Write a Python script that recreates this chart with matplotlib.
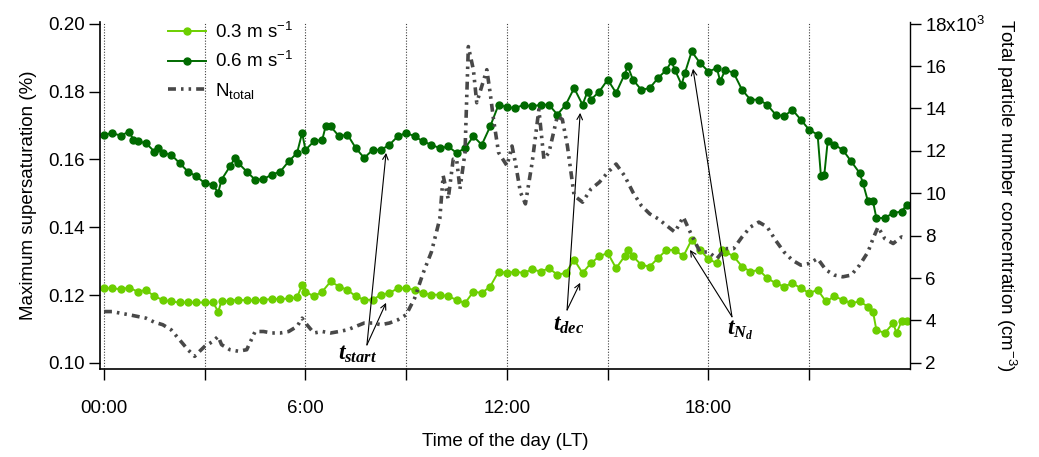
import numpy as np
import matplotlib
matplotlib.use("Agg")
import matplotlib.pyplot as plt
from matplotlib.ticker import FixedLocator, FixedFormatter

plt.rcParams["font.family"] = ["Liberation Sans", "DejaVu Sans"]
plt.rcParams["mathtext.fontset"] = "custom"
plt.rcParams["mathtext.rm"] = "Liberation Sans"
plt.rcParams["mathtext.it"] = "Liberation Serif:italic:bold"
plt.rcParams["mathtext.default"] = "rm"

# --- max supersaturation at updraft 0.3 m/s (hour of day, %) ---
t_03 = [0.0, 0.25, 0.5, 0.75, 1.0, 1.25, 1.5, 1.75, 2.0, 2.25, 2.5, 2.75, 3.0, 3.25, 3.4, 3.5,
        3.75, 4.0, 4.25, 4.5, 4.75, 5.0, 5.25, 5.5, 5.75, 5.9, 6.0, 6.25, 6.5, 6.75, 7.0, 7.25,
        7.5, 7.75, 8.0, 8.25, 8.5, 8.75, 9.0, 9.25, 9.5, 9.75, 10.0, 10.25, 10.5, 10.75, 11.0,
        11.25, 11.5, 11.75, 12.0, 12.25, 12.5, 12.75, 13.0, 13.25, 13.5, 13.75, 14.0, 14.25,
        14.5, 14.75, 15.0, 15.25, 15.5, 15.6, 15.75, 16.0, 16.25, 16.5, 16.75, 17.0, 17.25,
        17.5, 17.75, 18.0, 18.25, 18.4, 18.5, 18.75, 19.0, 19.25, 19.5, 19.75, 20.0, 20.25,
        20.5, 20.75, 21.0, 21.25, 21.5, 21.75, 22.0, 22.25, 22.5, 22.75, 22.9, 23.0, 23.25,
        23.5, 23.6, 23.75, 23.9]
s_03 = [0.1220, 0.1220, 0.1217, 0.1222, 0.1210, 0.1215, 0.1196, 0.1186, 0.1181, 0.1178, 0.1178,
        0.1178, 0.1178, 0.1178, 0.1151, 0.1181, 0.1183, 0.1186, 0.1184, 0.1184, 0.1186, 0.1188,
        0.1188, 0.1190, 0.1193, 0.1230, 0.1210, 0.1196, 0.1210, 0.1240, 0.1225, 0.1215, 0.1196,
        0.1186, 0.1186, 0.1201, 0.1206, 0.1220, 0.1220, 0.1215, 0.1206, 0.1201, 0.1201, 0.1196,
        0.1186, 0.1176, 0.1210, 0.1206, 0.1225, 0.1269, 0.1265, 0.1269, 0.1265, 0.1276, 0.1269,
        0.1279, 0.1260, 0.1265, 0.1304, 0.1265, 0.1294, 0.1314, 0.1324, 0.1279, 0.1314, 0.1333,
        0.1314, 0.1289, 0.1284, 0.1309, 0.1333, 0.1333, 0.1314, 0.1363, 0.1333, 0.1306, 0.1294,
        0.1333, 0.1328, 0.1314, 0.1284, 0.1269, 0.1274, 0.1250, 0.1235, 0.1225, 0.1235, 0.1220,
        0.1206, 0.1215, 0.1181, 0.1196, 0.1186, 0.1176, 0.1181, 0.1166, 0.1151, 0.1097, 0.1088,
        0.1117, 0.1088, 0.1122, 0.1122]

# --- max supersaturation at updraft 0.6 m/s ---
t_06 = [0.0, 0.25, 0.5, 0.75, 0.875, 1.0, 1.25, 1.5, 1.6, 1.75, 2.0, 2.25, 2.5, 2.75, 3.0, 3.25,
        3.4, 3.5, 3.75, 3.9, 4.0, 4.25, 4.5, 4.75, 5.0, 5.25, 5.5, 5.75, 5.9, 6.0, 6.25, 6.5,
        6.6, 6.75, 7.0, 7.25, 7.5, 7.75, 8.0, 8.25, 8.5, 8.75, 9.0, 9.25, 9.5, 9.75, 10.0,
        10.25, 10.5, 10.75, 11.0, 11.25, 11.5, 11.75, 12.0, 12.25, 12.5, 12.75, 13.0, 13.25,
        13.5, 13.75, 14.0, 14.25, 14.4, 14.5, 14.75, 15.0, 15.25, 15.5, 15.6, 15.75, 16.0,
        16.25, 16.5, 16.75, 16.9, 17.0, 17.2, 17.3, 17.5, 17.75, 18.0, 18.25, 18.35, 18.5,
        18.75, 19.0, 19.25, 19.5, 19.75, 20.0, 20.25, 20.5, 20.75, 21.0, 21.25, 21.35, 21.45,
        21.55, 21.75, 22.0, 22.25, 22.5, 22.6, 22.75, 22.9, 23.0, 23.25, 23.5, 23.75, 23.9]
s_06 = [0.1673, 0.1677, 0.1670, 0.1682, 0.1658, 0.1653, 0.1648, 0.1623, 0.1633, 0.1619, 0.1614,
        0.1589, 0.1564, 0.1550, 0.1530, 0.1525, 0.1501, 0.1540, 0.1579, 0.1604, 0.1589, 0.1564,
        0.1540, 0.1542, 0.1555, 0.1564, 0.1594, 0.1619, 0.1678, 0.1628, 0.1653, 0.1658, 0.1697,
        0.1697, 0.1668, 0.1673, 0.1633, 0.1604, 0.1628, 0.1628, 0.1643, 0.1668, 0.1678, 0.1668,
        0.1653, 0.1643, 0.1633, 0.1638, 0.1619, 0.1633, 0.1668, 0.1643, 0.1697, 0.1761, 0.1754,
        0.1751, 0.1761, 0.1756, 0.1761, 0.1761, 0.1732, 0.1761, 0.1810, 0.1761, 0.1800, 0.1776,
        0.1800, 0.1835, 0.1796, 0.1850, 0.1874, 0.1835, 0.1805, 0.1810, 0.1840, 0.1864, 0.1889,
        0.1864, 0.1820, 0.1855, 0.1918, 0.1884, 0.1859, 0.1869, 0.1830, 0.1864, 0.1855, 0.1805,
        0.1776, 0.1776, 0.1761, 0.1732, 0.1727, 0.1746, 0.1717, 0.1687, 0.1673, 0.1550, 0.1555,
        0.1653, 0.1643, 0.1628, 0.1594, 0.1560, 0.1530, 0.1476, 0.1476, 0.1427, 0.1427, 0.1442,
        0.1446, 0.1466]

# --- total particle number concentration (x10^3 cm^-3) ---
t_n = [0.0, 0.25, 0.5, 0.75, 1.0, 1.25, 1.5, 1.75, 2.0, 2.25, 2.5, 2.7, 2.85, 3.0, 3.25, 3.4,
       3.5, 3.75, 4.0, 4.25, 4.5, 4.75, 5.0, 5.25, 5.5, 5.75, 5.9, 6.0, 6.25, 6.5, 6.75, 7.0,
       7.25, 7.5, 7.75, 8.0, 8.25, 8.5, 8.75, 9.0, 9.25, 9.5, 9.75, 10.0, 10.1, 10.25, 10.4,
       10.5, 10.6, 10.75, 10.85, 11.0, 11.1, 11.25, 11.4, 11.5, 11.6, 11.75, 12.0, 12.15,
       12.25, 12.4, 12.55, 12.75, 12.95, 13.1, 13.25, 13.5, 13.65, 13.8, 14.0, 14.25, 14.5,
       14.75, 15.0, 15.25, 15.5, 15.75, 16.0, 16.25, 16.5, 16.75, 17.0, 17.25, 17.5, 17.75,
       18.0, 18.25, 18.5, 18.75, 19.0, 19.25, 19.5, 19.75, 20.0, 20.25, 20.5, 20.75, 21.0,
       21.25, 21.5, 21.75, 22.0, 22.25, 22.5, 22.75, 22.9, 23.05, 23.25, 23.5, 23.75, 23.9]
n_tot = [4.42, 4.42, 4.34, 4.27, 4.19, 4.11, 3.92, 3.80, 3.56, 3.09, 2.62, 2.31, 2.55, 2.78, 3.02,
         3.25, 2.86, 2.62, 2.55, 2.62, 3.48, 3.48, 3.41, 3.41, 3.48, 3.72, 4.11, 3.88, 3.41, 3.48,
         3.41, 3.48, 3.56, 3.72, 3.88, 3.88, 3.80, 3.88, 4.03, 4.27, 5.05, 6.22, 7.23, 8.80,
         10.83, 9.73, 11.61, 11.61, 10.20, 11.92, 16.92, 15.83, 14.27, 15.05, 15.83, 14.73,
         13.48, 11.92, 11.30, 12.23, 11.45, 10.05, 9.50, 11.45, 13.95, 11.61, 11.92, 13.64,
         13.48, 12.23, 9.89, 9.58, 10.20, 10.52, 10.98, 11.38, 10.83, 10.05, 9.42, 9.03, 8.80,
         8.48, 8.17, 8.88, 8.02, 7.23, 7.23, 6.92, 7.39, 7.39, 7.94, 8.41, 8.64, 8.41, 7.78,
         7.23, 6.84, 6.61, 6.69, 6.92, 6.38, 6.14, 6.06, 6.14, 6.61, 7.23, 7.86, 8.41, 7.86,
         7.63, 7.94, 7.86]

# arrow tails / heads in (hour, %) for the three marked times
t_start_tail, t_start_heads = (7.83, 0.1053), [(8.40, 0.1619), (8.40, 0.1177)]
t_dec_tail, t_dec_heads = (13.79, 0.1156), [(14.18, 0.1737), (14.18, 0.1236)]
t_nd_tail, t_nd_heads = (18.70, 0.1136), [(17.54, 0.1867), (17.45, 0.1333)]

c_light = "#6ccf00"
c_dark = "#006a00"
c_gray = "#484848"
fs = 13.5

fig = plt.figure(figsize=(10.39, 4.57), dpi=100)
ax = fig.add_axes([0.0962, 0.1926, 0.7796, 0.7593])
ax2 = ax.twinx()

ylo, yhi = 0.0982, 0.2005
ax.set_xlim(-0.12, 24.0)
ax.set_ylim(ylo, yhi)
# right axis tied to left: 0.10 -> 2, 0.20 -> 18
ax2.set_ylim(2 + (ylo - 0.10) * 160, 2 + (yhi - 0.10) * 160)

for h in range(0, 24, 3):
    ax.axvline(h, color="0.25", ls=(0, (1, 1.5)), lw=0.8, zorder=0)

l1, = ax.plot(t_03, s_03, "-o", color=c_light, mec=c_light, ms=5, lw=1.4, zorder=2)
l2, = ax.plot(t_06, s_06, "-o", color=c_dark, mec=c_dark, ms=5, lw=1.4, zorder=2)
l3, = ax2.plot(t_n, n_tot, color=c_gray, lw=2.6, dashes=(2.2, 1.4, 0.7, 1.4, 0.7, 1.4))

for tail, heads in [(t_start_tail, t_start_heads), (t_dec_tail, t_dec_heads),
                    (t_nd_tail, t_nd_heads)]:
    for hd in heads:
        ax.annotate("", xy=hd, xytext=tail,
                    arrowprops=dict(arrowstyle="->", lw=0.8, color="black",
                                    shrinkA=0, shrinkB=0, mutation_scale=10), zorder=5)

ax.text(7.56, 0.1026, r"$\mathit{t_{start}}$", fontsize=17, ha="center", va="center", zorder=6)
ax.text(13.85, 0.1112, r"$\mathit{t_{dec}}$", fontsize=17, ha="center", va="center", zorder=6)
ax.text(18.95, 0.1095, r"$\mathit{t_{N_d}}$", fontsize=17, ha="center", va="center", zorder=6)

# axes styling
for a in (ax, ax2):
    a.spines["top"].set_visible(False)
ax2.spines["left"].set_visible(False)
ax2.spines["bottom"].set_visible(False)
ax.spines["right"].set_visible(False)
for s in ("left", "bottom"):
    ax.spines[s].set_linewidth(1.2)
ax2.spines["right"].set_linewidth(1.0)

ax.xaxis.set_major_locator(FixedLocator(range(0, 24, 3)))
ax.xaxis.set_major_formatter(FixedFormatter(["00:00", "", "6:00", "", "12:00", "", "18:00", ""]))
ax.set_yticks([0.10, 0.12, 0.14, 0.16, 0.18, 0.20])
ax.set_yticklabels(["0.10", "0.12", "0.14", "0.16", "0.18", "0.20"])
ax2.set_yticks([2, 4, 6, 8, 10, 12, 14, 16, 18])
ax2.set_yticklabels(["2", "4", "6", "8", "10", "12", "14", "16", r"18x10$^{3}$"])

ax.tick_params(axis="x", direction="out", length=8, width=1, pad=14, labelsize=fs)
ax.tick_params(axis="y", direction="out", length=8, width=1, pad=3, labelsize=fs)
ax2.tick_params(axis="y", direction="out", length=8, width=1, pad=3, labelsize=fs)

ax.set_xlabel("Time of the day (LT)", fontsize=fs, labelpad=12)
ax.set_ylabel("Maximum supersaturation (%)", fontsize=fs, labelpad=8)
ax2.set_ylabel(r"Total particle number concentration (cm$^{-3}$)", fontsize=fs,
               rotation=-90, labelpad=24)

leg = ax.legend([l1, l2, l3], [r"0.3 m s$^{-1}$", r"0.6 m s$^{-1}$", r"N$_{total}$"],
                loc="upper left", bbox_to_anchor=(0.075, 1.022), frameon=False, fontsize=fs,
                handlelength=2.0, handletextpad=0.5, labelspacing=0.5, borderaxespad=0)

fig.savefig("out.png", dpi=100)
